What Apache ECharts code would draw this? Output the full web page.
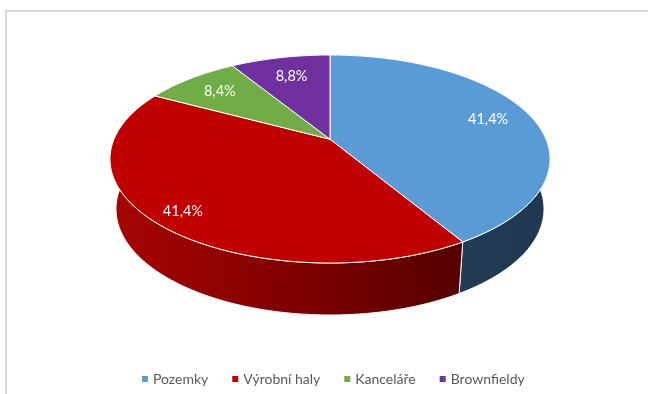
<!DOCTYPE html>
<html><head><meta charset="utf-8">
<script src="https://cdn.jsdelivr.net/npm/echarts@6/dist/echarts.min.js"></script>
<style>html,body{margin:0;padding:0;background:#fff}#c{width:648px;height:394px}</style>
</head><body><div id="c"></div>
<script>
// ---- data ----
const categories = ['Pozemky', 'Výrobní haly', 'Kanceláře', 'Brownfieldy'];
const values = [41.4, 41.4, 8.4, 8.8];

// ---- styles / layout ----
const topColors = ['#5B9BD5', '#C00000', '#70AD47', '#7030A0'];
const labelRadii = [0.79, 0.87, 0.77, 0.74];
const geom = { cx: 330, cy: 159, rx: 220, ry: 104, cyB: 209, rxB: 214, ryB: 106, a: 0.19 };
const FONT = 'Lato, "Liberation Sans", sans-serif';

const sideFills = [
  new echarts.graphic.LinearGradient(330, 0, 550, 0, [
    { offset: 0, color: '#28455F' }, { offset: 1, color: '#1F3750' }], true),
  new echarts.graphic.LinearGradient(110, 0, 462, 0, [
    { offset: 0, color: '#A80404' }, { offset: 0.5, color: '#810000' }, { offset: 1, color: '#540000' }], true),
  '#4C7A30',
  '#4C2070'
];

const total = values.reduce((s, v) => s + v, 0);

function proj(theta, r, cy, rx, ry) {
  const x = r * Math.sin(theta), y = r * Math.cos(theta);
  const a = geom.a, d = 1 + a * y, k = Math.sqrt(1 - a * a);
  return [geom.cx + rx * x * k / d, cy - ry * (y + a) / d];
}

function fmt(v) { return v.toFixed(1).replace('.', ',') + '%'; }

function renderSlice(i) {
  return function (params, api) {
    const v = api.value(0);
    let start = 0;
    for (let j = 0; j < i; j++) start += values[j];
    const t1 = start / total * 2 * Math.PI, t2 = (start + v) / total * 2 * Math.PI;
    const n = Math.max(2, Math.ceil((t2 - t1) / (Math.PI / 180)));
    const topArc = [], botArc = [];
    for (let k = 0; k <= n; k++) {
      const t = t1 + (t2 - t1) * k / n;
      topArc.push(proj(t, 1, geom.cy, geom.rx, geom.ry));
      botArc.push(proj(t, 1, geom.cyB, geom.rxB, geom.ryB));
    }
    const apex = proj(0, 0, geom.cy, geom.rx, geom.ry);
    const lp = proj((t1 + t2) / 2, labelRadii[i], geom.cy, geom.rx, geom.ry);
    return {
      type: 'group',
      children: [
        { type: 'polygon', z2: 0, shape: { points: topArc.concat(botArc.slice().reverse()) },
          style: { fill: sideFills[i], stroke: '#ffffff', lineWidth: 1 } },
        { type: 'polygon', z2: 10, shape: { points: [apex].concat(topArc) },
          style: { fill: topColors[i], stroke: '#ffffff', lineWidth: 1 } },
        { type: 'text', z2: 20, style: { text: fmt(v), x: lp[0], y: lp[1], fill: '#ffffff',
          font: '14.5px ' + FONT, align: 'center', verticalAlign: 'middle' } }
      ]
    };
  };
}

const chart = echarts.init(document.getElementById('c'), null, { renderer: 'canvas' });
chart.setOption({
  animation: false,
  backgroundColor: '#ffffff',
  graphic: [{ type: 'rect', silent: true, shape: { x: 6, y: 11, width: 700, height: 400 },
    style: { fill: 'none', stroke: '#D9D9D9', lineWidth: 2 } }],
  legend: {
    data: categories, left: 137, top: 367, icon: 'rect', itemWidth: 6, itemHeight: 6, itemGap: 24,
    textStyle: { color: '#595959', fontSize: 14, fontFamily: FONT }
  },
  series: categories.map((name, i) => ({
    type: 'custom', name, coordinateSystem: 'none', silent: true,
    itemStyle: { color: topColors[i] },
    data: [[values[i]]],
    renderItem: renderSlice(i)
  }))
});
</script></body></html>
